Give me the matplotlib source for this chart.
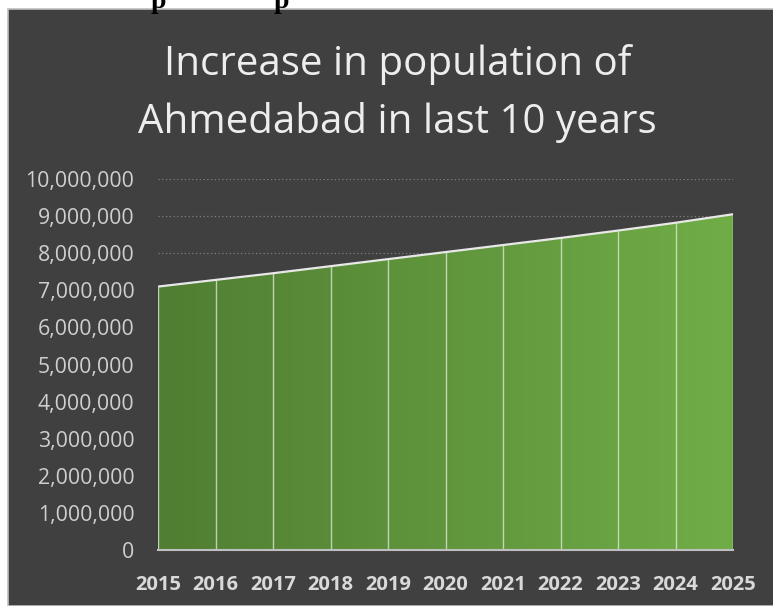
import numpy as np
import matplotlib
matplotlib.use('Agg')
import matplotlib.pyplot as plt
from matplotlib.patches import Rectangle

years = [2015, 2016, 2017, 2018, 2019, 2020, 2021, 2022, 2023, 2024, 2025]
population = [7100000, 7280000, 7460000, 7650000, 7840000, 8030000,
              8220000, 8410000, 8610000, 8820000, 9050000]
yticks = list(range(0, 10000001, 1000000))
title_lines = ['Increase in population of', 'Ahmedabad in last 10 years']

W, H = 773, 606
fig = plt.figure(figsize=(W / 100, H / 100), dpi=100)
fig.patch.set_facecolor('white')

# dark chart panel below the white strip
fig.add_artist(Rectangle((8 / W, 0), 1, (H - 9) / H, transform=fig.transFigure,
                         facecolor='#404040', edgecolor='#BFBFBF', lw=1.2, zorder=0))

# descenders of cut-off heading text above the panel
for px in [158, 281]:
    fig.text(px / W, 1 - 1 / H, 'p', family='Liberation Serif', weight='bold',
             fontsize=20, color='black', ha='center', va='center')

ax = fig.add_axes([158 / W, (H - 550) / H, (733 - 158) / W, (550 - 179) / H])
ax.set_facecolor('none')
ax.set_xlim(years[0], years[-1])
ax.set_ylim(0, 10000000)

# gradient fill clipped to the area
poly = ax.fill_between(years, population, 0, color='none', lw=0)
grad = np.linspace(0, 1, 256).reshape(1, -1)
cmap = matplotlib.colors.LinearSegmentedColormap.from_list('g', ['#507E32', '#70AD47'])
im = ax.imshow(grad, cmap=cmap, aspect='auto', extent=[years[0], years[-1], 0, 10000000],
               zorder=2)
path = poly.get_paths()[0]
im.set_clip_path(path, transform=ax.transData)

ax.plot(years, population, color='#E8E8E8', lw=1.6, zorder=4)
ax.vlines(years, 0, population, color='#D9E8CF', lw=1.0, alpha=0.8, zorder=3)

for v in yticks[1:]:
    ax.axhline(v, color='#7F7F7F', lw=0.9, ls=(0, (1, 2)), zorder=1)

for s in ['top', 'right', 'left']:
    ax.spines[s].set_visible(False)
ax.spines['bottom'].set_color('#BFBFBF')
ax.spines['bottom'].set_linewidth(1.5)
ax.spines['bottom'].set_zorder(5)

ax.set_yticks(yticks)
ax.set_yticklabels([f'{v:,}' for v in yticks], family='Open Sans', fontsize=15.3,
                   color='#CFCFCF')
ax.set_xticks(years)
ax.set_xticklabels([str(y) for y in years], family='Open Sans', fontsize=14.5,
                   weight='bold', color='#D9D9D9')
ax.tick_params(axis='y', length=0, pad=17)
ax.tick_params(axis='x', length=0, pad=18)

for line, base in zip(title_lines, [75, 133]):
    fig.text(397.5 / W, 1 - base / H, line, family='Open Sans', fontsize=29,
             color='#EDEDED', ha='center', va='baseline')

fig.savefig('out.png', dpi=100, facecolor=fig.get_facecolor())
